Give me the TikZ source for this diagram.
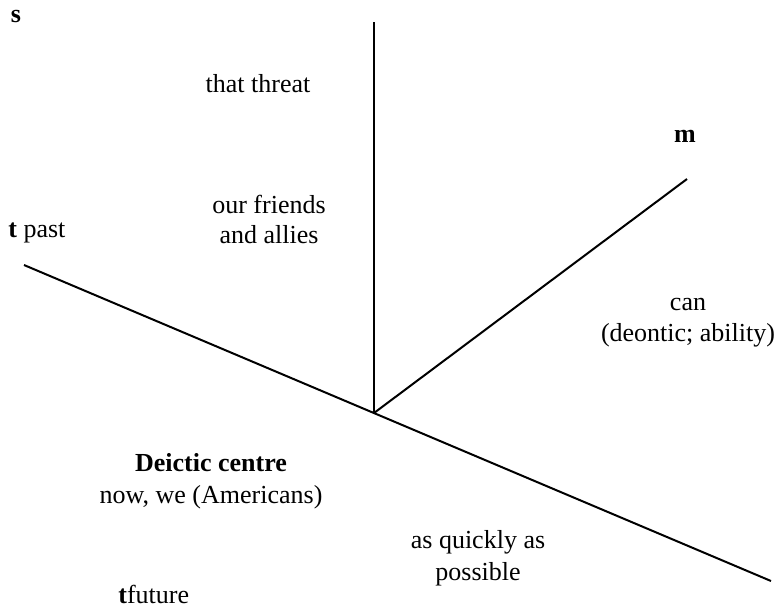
\documentclass[tikz,border=0pt]{standalone}
\usepackage{fontspec}
\setmainfont{Liberation Serif}
\begin{document}
\begin{tikzpicture}[x=0.5pt,y=-0.5pt,
  lbl/.style={inner sep=0pt,anchor=base,font=\fontsize{13}{15.75}\selectfont},
  axis/.style={line width=1pt,black}]
\useasboundingbox (0,0) rectangle (778,607);
% axes
\coordinate (O) at (374,413);
\coordinate (tp) at (24,265);
\coordinate (tf) at (771,581);
\coordinate (stop) at (374,22);
\coordinate (mend) at (687,179);
\draw[axis] (tp) -- (tf);
\draw[axis] (O) -- (stop);
\draw[axis] (O) -- (mend);
% labels
\node[lbl] (s) at (16,22) {\bfseries s};
\node[lbl] (threat) at (258,92) {that threat};
\node[lbl] (friends1) at (269,213) {our friends};
\node[lbl] (friends2) at (269,243.5) {and allies};
\node[lbl,anchor=base west] (tpast) at (8,237) {\textbf{t} past};
\node[lbl] (m) at (685,142) {\bfseries m};
\node[lbl] (can1) at (688,310) {can};
\node[lbl] (can2) at (688,341.5) {(deontic; ability)};
\node[lbl] (deictic1) at (211,471) {\bfseries Deictic centre};
\node[lbl] (deictic2) at (211,503) {now, we (Americans)};
\node[lbl] (quick1) at (478,548) {as quickly as};
\node[lbl] (quick2) at (478,580) {possible};
\node[lbl,anchor=base west] (tfut) at (118,603) {\textbf{t}future};
\end{tikzpicture}
\end{document}
